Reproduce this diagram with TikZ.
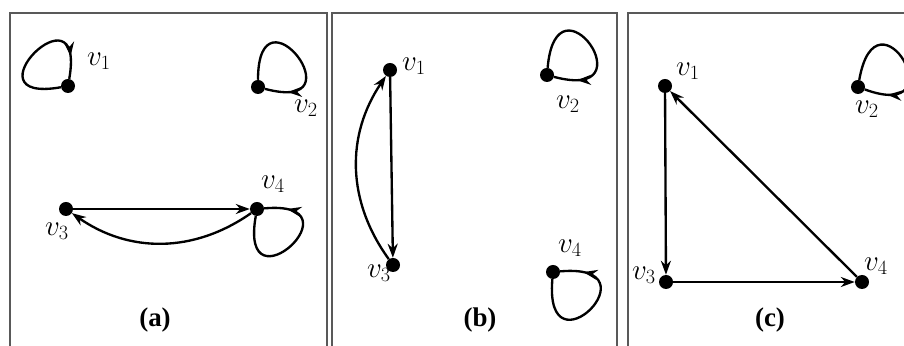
\documentclass[tikz,border=0pt]{standalone}
\usepackage{fontspec}
\setmainfont{Liberation Serif}
\usetikzlibrary{arrows.meta, decorations.markings}

\tikzset{
  vertex/.style={circle, fill=black, inner sep=0pt, minimum size=0.42cm},
  vlabel/.style={font=\fontsize{24}{28}\selectfont},
  sublabel/.style={font=\bfseries\fontsize{23}{27}\selectfont},
  panel/.style={draw=black!65, line width=1.2pt},
  dedge/.style={line width=2pt, -{Stealth[length=0.42cm, width=0.3cm]}},
  selfloop/.style={line width=2pt, min distance=3cm, looseness=1,
    postaction={decorate},
    decoration={markings, mark=at position 0.84 with {\arrow{Stealth[length=0.42cm, width=0.3cm]}}}},
}

\begin{document}
\begin{tikzpicture}[x=0.03cm, y=0.03cm]
    \clip (0,0) rectangle (904,346);

    % Panels
    \draw[panel] (10,-10) rectangle (327,333);
    \draw[panel] (332,-10) rectangle (617,333);
    \draw[panel] (628,-10) rectangle (915,333);

    % (a)
    \node[vertex] (a1) at (68,260) {};
    \node[vertex] (a2) at (258,259) {};
    \node[vertex] (a3) at (66,137) {};
    \node[vertex] (a4) at (257,137) {};
    \node[vlabel] (a1l) at (99,285) {$v_1$};
    \node[vlabel] (a2l) at (306,238) {$v_2$};
    \node[vlabel] (a3l) at (57,115) {$v_3$};
    \node[vlabel] (a4l) at (273,162) {$v_4$};
    \draw[selfloop] (a1) to[out=190, in=80] (a1);
    \draw[selfloop] (a2) to[out=90, in=-15] (a2);
    \draw[selfloop] (a4) to[out=-100, in=5] (a4);
    \draw[dedge] (a3) -- (a4);
    \draw[dedge] (a4) to[bend left=35] (a3);
    \node[sublabel] (acap) at (155,26) {(a)};

    % (b)
    \node[vertex] (b1) at (390,276) {};
    \node[vertex] (b2) at (547,271) {};
    \node[vertex] (b3) at (393,81) {};
    \node[vertex] (b4) at (553,74) {};
    \node[vlabel] (b1l) at (414,280) {$v_1$};
    \node[vlabel] (b2l) at (568,242) {$v_2$};
    \node[vlabel] (b3l) at (379,73) {$v_3$};
    \node[vlabel] (b4l) at (570,98) {$v_4$};
    \draw[selfloop] (b2) to[out=85, in=-15] (b2);
    \draw[selfloop] (b4) to[out=-95, in=5] (b4);
    \draw[dedge] (b1) -- (b3);
    \draw[dedge] (b3) to[bend left=35] (b1);
    \node[sublabel] (bcap) at (480,26) {(b)};

    % (c)
    \node[vertex] (c1) at (665,260) {};
    \node[vertex] (c2) at (858,259) {};
    \node[vertex] (c3) at (666,64) {};
    \node[vertex] (c4) at (862,64) {};
    \node[vlabel] (c1l) at (688,275) {$v_1$};
    \node[vlabel] (c2l) at (867,237) {$v_2$};
    \node[vlabel] (c3l) at (644,71) {$v_3$};
    \node[vlabel] (c4l) at (876,80) {$v_4$};
    \draw[selfloop] (c2) to[out=80, in=-20] (c2);
    \draw[dedge] (c1) -- (c3);
    \draw[dedge] (c3) -- (c4);
    \draw[dedge] (c4) -- (c1);
    \node[sublabel] (ccap) at (770,26) {(c)};
\end{tikzpicture}
\end{document}
